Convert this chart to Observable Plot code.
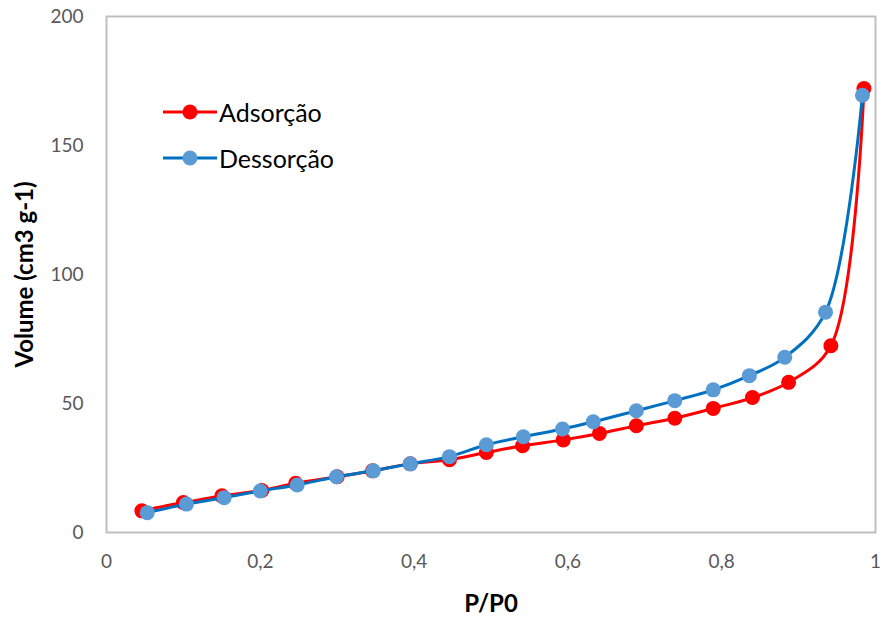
<!DOCTYPE html>
<html>
<head>
<meta charset="utf-8">
<script src="https://cdn.jsdelivr.net/npm/d3@7"></script>
<script src="https://cdn.jsdelivr.net/npm/@observablehq/plot@0.6"></script>
<style>
  html, body { margin: 0; padding: 0; background: #fff; }
  #wrap { position: relative; width: 882px; height: 617px; font-family: Lato, "Open Sans", sans-serif; }
  #legend { position: absolute; left: 163px; top: 89px; }
  .item { display: flex; align-items: center; height: 46px; font-size: 25px; color: #000; }
  .item svg { margin-right: 2px; }
</style>
</head>
<body>
<div id="wrap">
  <div id="chart"></div>
  <div id="legend"></div>
</div>
<script>
// Relative pressure P/P0 and adsorbed volume (cm3 g-1)
const adsP = [0.046, 0.100, 0.150, 0.202, 0.246, 0.300, 0.346, 0.395, 0.446, 0.494, 0.541, 0.594, 0.641, 0.689, 0.739, 0.789, 0.840, 0.887, 0.942, 0.985];
const adsV = [8.4, 11.6, 14.2, 16.3, 19.1, 21.6, 23.9, 26.6, 28.2, 31.0, 33.6, 35.9, 38.4, 41.4, 44.3, 48.1, 52.3, 58.2, 72.4, 172.1];
const desP = [0.053, 0.104, 0.153, 0.200, 0.248, 0.299, 0.347, 0.395, 0.446, 0.494, 0.542, 0.593, 0.633, 0.689, 0.739, 0.789, 0.836, 0.882, 0.935, 0.983];
const desV = [7.7, 11.0, 13.5, 16.1, 18.4, 21.6, 23.9, 26.6, 29.4, 34.0, 37.1, 40.1, 42.9, 47.2, 51.1, 55.3, 60.8, 67.9, 85.4, 169.5];

const xTicks = [0, 0.2, 0.4, 0.6, 0.8, 1];
const yTicks = [0, 50, 100, 150, 200];

const seriesNames = ["Adsorção", "Dessorção"];
const lineColors = ["#ff0000", "#0070c0"];
const dotColors = ["#ff0000", "#5b9bd5"];

const ads = adsP.map((p, i) => ({p, v: adsV[i]}));
const des = desP.map((p, i) => ({p, v: desV[i]}));

const fmtX = d => String(d).replace(".", ",");

const chart = Plot.plot({
  width: 882,
  height: 617,
  marginLeft: 106,
  marginRight: 7,
  marginTop: 16,
  marginBottom: 85,
  style: {fontFamily: "Lato, 'Open Sans', sans-serif", fontSize: "19px", color: "#595959", background: "#fff"},
  x: {domain: [0, 1]},
  y: {domain: [0, 200]},
  marks: [
    Plot.axisX(xTicks, {tickSize: 0, tickPadding: 22, tickFormat: fmtX, label: null, fill: "#595959"}),
    Plot.axisY(yTicks, {tickSize: 0, tickPadding: 23, label: null, fill: "#595959"}),
    Plot.frame({stroke: "#bfbfbf", strokeWidth: 2}),
    Plot.line(ads, {x: "p", y: "v", stroke: lineColors[0], strokeWidth: 3, curve: "catmull-rom"}),
    Plot.dot(ads, {x: "p", y: "v", r: 7.5, fill: dotColors[0]}),
    Plot.line(des, {x: "p", y: "v", stroke: lineColors[1], strokeWidth: 3, curve: "catmull-rom"}),
    Plot.dot(des, {x: "p", y: "v", r: 7.5, fill: dotColors[1]}),
    Plot.text(["P/P0"], {frameAnchor: "bottom", textAnchor: "middle", lineAnchor: "middle", dy: 72, fill: "#000", fontWeight: "bold", fontSize: 24}),
    Plot.text(["Volume (cm3 g-1)"], {frameAnchor: "left", textAnchor: "middle", lineAnchor: "middle", dx: -81, rotate: -90, fill: "#000", fontWeight: "bold", fontSize: 24})
  ]
});
document.getElementById("chart").append(chart);

// Legend: line with a centered marker, then the series name
const legend = document.getElementById("legend");
seriesNames.forEach((name, i) => {
  const item = document.createElement("div");
  item.className = "item";
  item.innerHTML = `<svg width="54" height="20"><line x1="0" y1="10" x2="54" y2="10" stroke="${lineColors[i]}" stroke-width="3"/><circle cx="27" cy="10" r="7.5" fill="${dotColors[i]}"/></svg><span>${name}</span>`;
  legend.append(item);
});
</script>
</body>
</html>
